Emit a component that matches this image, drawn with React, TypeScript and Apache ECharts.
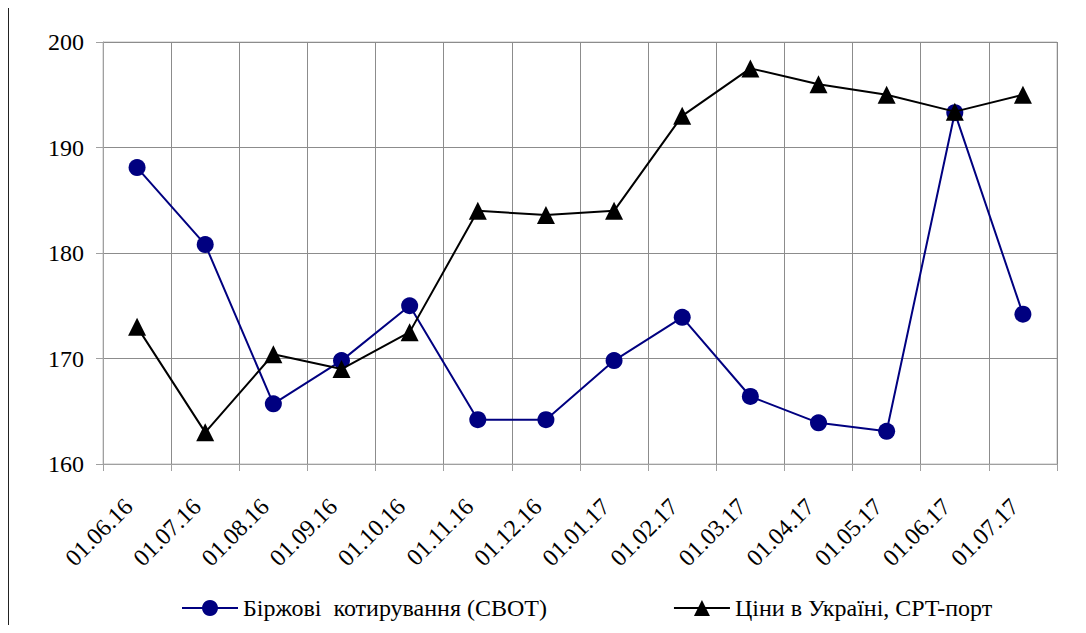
import React, { useEffect, useRef } from "react";
import * as echarts from "echarts";

const categories = [
  "01.06.16", "01.07.16", "01.08.16", "01.09.16", "01.10.16", "01.11.16", "01.12.16",
  "01.01.17", "01.02.17", "01.03.17", "01.04.17", "01.05.17", "01.06.17", "01.07.17",
];
const cbotValues = [188.1, 180.8, 165.7, 169.8, 175.0, 164.2, 164.2, 169.8, 173.9, 166.4, 163.9, 163.1, 193.3, 174.2];
const ukraineValues = [173.0, 163.0, 170.4, 169.0, 172.5, 184.0, 183.6, 184.0, 193.0, 197.5, 196.0, 195.0, 193.4, 195.0];
const seriesNames = ["Біржові  котирування (CBOT)", "Ціни в Україні, CPT-порт"];

const FONT = "Liberation Serif";
const CSS = "#chart-root svg text, #chart-root svg tspan { font-family: 'Liberation Serif', 'Times New Roman', serif !important; }";

export default function App() {
  const ref = useRef<HTMLDivElement>(null);
  useEffect(() => {
    if (!ref.current) return;
    const chart = echarts.init(ref.current, null, { renderer: "svg" });
    chart.setOption({
      animation: false,
      backgroundColor: "#ffffff",
      textStyle: { fontFamily: FONT },
      graphic: [
        {
          type: "rect",
          shape: { x: 8.5, y: 4.5, width: 1200, height: 800 },
          style: { fill: "none", stroke: "#222", lineWidth: 1 },
          silent: true,
          z: 100,
        },
      ],
      grid: {
        left: 103,
        right: 29,
        top: 42,
        bottom: 169,
        show: true,
        borderColor: "#c0c0c0",
        borderWidth: 1,
        backgroundColor: "transparent",
      },
      legend: {
        left: 176,
        top: 591,
        itemWidth: 56,
        itemHeight: 20,
        itemGap: 126,
        textStyle: { fontFamily: FONT, fontSize: 24, color: "#000" },
        data: seriesNames,
      },
      xAxis: {
        type: "category",
        data: categories,
        boundaryGap: true,
        axisLine: { lineStyle: { color: "#a0a0a0", width: 1 } },
        axisTick: { show: true, length: 7, alignWithLabel: false, lineStyle: { color: "#a0a0a0" } },
        splitLine: { show: true, lineStyle: { color: "#8c8c8c", width: 1 } },
        axisLabel: {
          rotate: 45,
          margin: 47,
          interval: 0,
          align: "right",
          verticalAlign: "bottom",
          fontFamily: FONT,
          fontSize: 24,
          color: "#000",
        },
      },
      yAxis: {
        type: "value",
        min: 160,
        max: 200,
        interval: 10,
        axisLine: { show: true, lineStyle: { color: "#a0a0a0", width: 1 } },
        axisTick: { show: true, length: 7, lineStyle: { color: "#a0a0a0" } },
        splitLine: { show: true, lineStyle: { color: "#8c8c8c", width: 1 } },
        axisLabel: { margin: 19, fontFamily: FONT, fontSize: 24, color: "#000" },
      },
      series: [
        {
          name: seriesNames[0],
          type: "line",
          data: cbotValues,
          symbol: "circle",
          symbolSize: 17,
          lineStyle: { color: "#000080", width: 2 },
          itemStyle: { color: "#000080" },
          z: 2,
        },
        {
          name: seriesNames[1],
          type: "line",
          data: ukraineValues,
          symbol: "triangle",
          symbolSize: 18,
          lineStyle: { color: "#000000", width: 2 },
          itemStyle: { color: "#000000" },
          z: 3,
        },
      ],
    });
    return () => chart.dispose();
  }, []);
  return (
    <>
      <style>{CSS}</style>
      <div
        id="chart-root"
        ref={ref}
        style={{ margin: -8, width: 1086, height: 633 }}
      />
    </>
  );
}
